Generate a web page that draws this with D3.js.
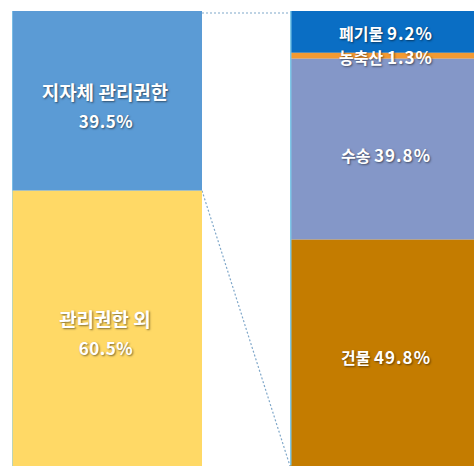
<!DOCTYPE html>
<html><head><meta charset="utf-8">
<script src="https://cdn.jsdelivr.net/npm/d3@7"></script>
<style>
html,body{margin:0;padding:0;background:#fff;}
text{font-family:"Noto Sans CJK KR","Noto Sans",sans-serif;font-weight:700;fill:#fff;text-shadow:1px 1px 2px rgba(0,0,0,0.5);}
</style></head><body>
<svg id="c" width="474" height="466"></svg>
<script>
const leftCats = ["지자체 관리권한", "관리권한 외"];
const leftVals = [39.5, 60.5];
const rightCats = ["폐기물", "농축산", "수송", "건물"];
const rightVals = [9.2, 1.3, 39.8, 49.8];

const leftColors = ["#5b9bd5", "#ffd966"];
const rightColors = ["#0a6ec4", "#f39a32", "#8497c8", "#c47c00"];

const svg = d3.select("#c");
const y = d3.scaleLinear().domain([0, 100]).range([11, 466]);
const yR = d3.scaleLinear().domain([0, d3.sum(rightVals)]).range([11, 466]);
const xL = 12, wL = 190, xR = 290, wR = 184;

function stack(vals) {
  let c = 0; return vals.map(v => { const s = c; c += v; return [s, c]; });
}
const ls = stack(leftVals), rs = stack(rightVals);

// connectors
const lineColor = "#7fa7c9";
svg.append("line").attr("x1", xL + wL).attr("y1", y(0) + 2).attr("x2", xR).attr("y2", yR(0) + 2)
  .attr("stroke", lineColor).attr("stroke-width", 1.2).attr("stroke-dasharray", "2,2");
svg.append("line").attr("x1", xL + wL).attr("y1", y(ls[0][1])).attr("x2", xR).attr("y2", yR(rs[3][1]))
  .attr("stroke", lineColor).attr("stroke-width", 1.2).attr("stroke-dasharray", "2,2");

svg.selectAll("rect.l").data(ls).enter().append("rect")
  .attr("x", xL).attr("width", wL)
  .attr("y", d => y(d[0])).attr("height", d => y(d[1]) - y(d[0]))
  .attr("fill", (d, i) => leftColors[i]);
svg.selectAll("rect.r").data(rs).enter().append("rect")
  .attr("x", xR).attr("width", wR)
  .attr("y", d => yR(d[0])).attr("height", d => yR(d[1]) - yR(d[0]))
  .attr("fill", (d, i) => rightColors[i]);
svg.append("rect").attr("x", xR).attr("y", yR(0)).attr("width", 1.5).attr("height", yR(100) - yR(0)).attr("fill", "#7ec8e8");
svg.append("rect").attr("x", xL).attr("y", y(0)).attr("width", 1).attr("height", y(100) - y(0)).attr("fill", "#8fd0ee").attr("opacity", 0.6);

// left labels
const ly = [100, 327];
ls.forEach((d, i) => {
  svg.append("text").attr("x", 105).attr("y", ly[i]).attr("text-anchor", "middle")
    .attr("font-size", 19).text(leftCats[i]);
  svg.append("text").attr("x", 106).attr("y", ly[i] + 28).attr("text-anchor", "middle")
    .attr("font-size", 17).attr("letter-spacing", 0.5).text(leftVals[i].toFixed(1) + "%");
});

// right labels
const ry = [40, 64, 162, 364];
rs.forEach((d, i) => {
  const t = svg.append("text").attr("x", 386).attr("y", ry[i]).attr("text-anchor", "middle");
  t.append("tspan").attr("font-size", 16).text(rightCats[i] + " ");
  t.append("tspan").attr("font-size", 17).attr("letter-spacing", 1).text(rightVals[i].toFixed(1) + "%");
});
</script></body></html>
